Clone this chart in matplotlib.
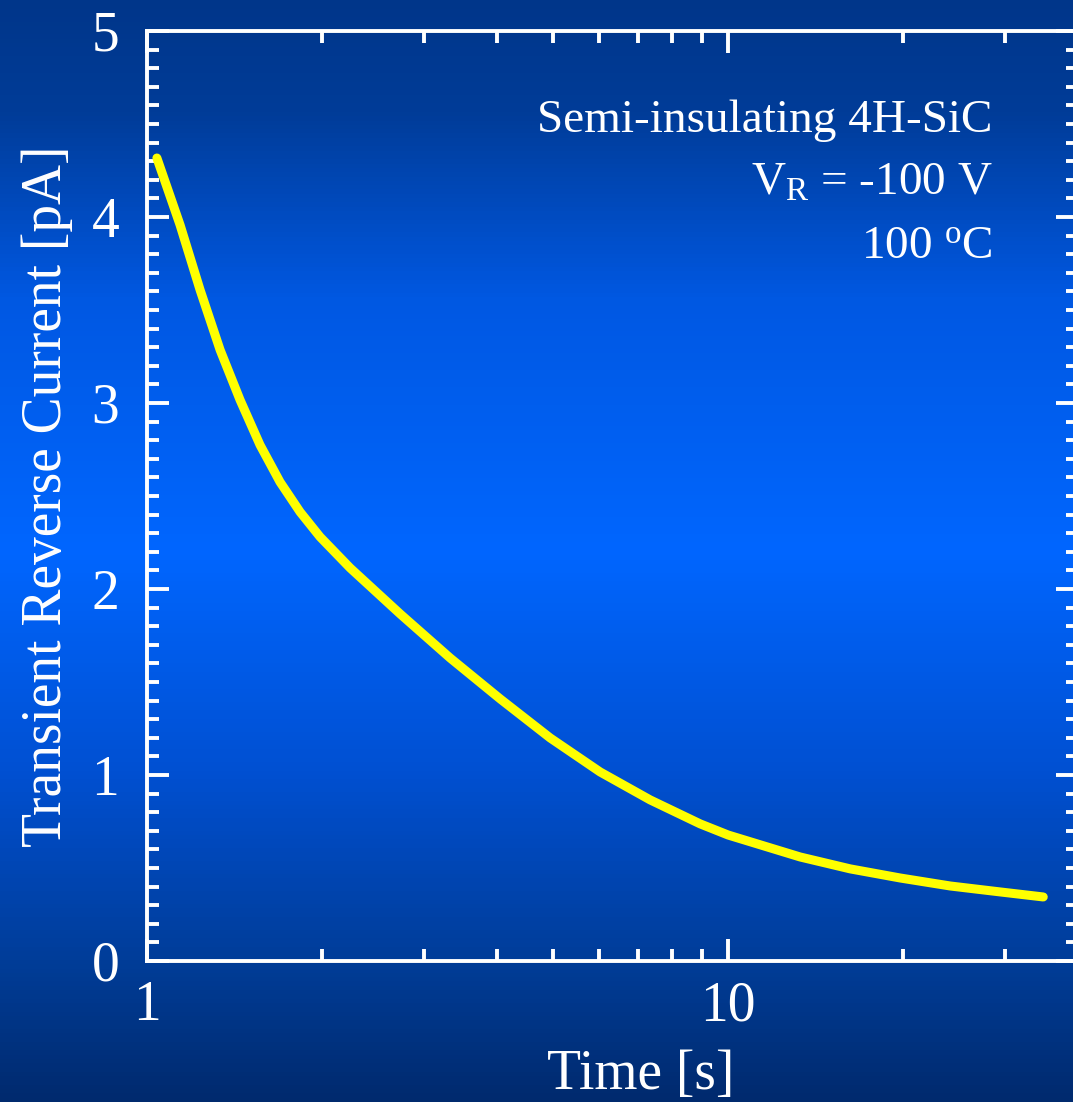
import numpy as np
import matplotlib.pyplot as plt
from matplotlib.colors import LinearSegmentedColormap
from matplotlib.ticker import MultipleLocator, LogLocator, NullFormatter, FixedLocator, FixedFormatter

# transient reverse current
time_s = [1.040, 1.140, 1.234, 1.336, 1.446, 1.565, 1.694, 1.834, 1.985, 2.236,
          2.726, 3.323, 4.052, 4.940, 6.022, 7.340, 8.950, 10.0, 13.30, 16.22,
          19.77, 24.11, 29.39, 34.85]
current_pA = [4.317, 3.957, 3.608, 3.285, 3.016, 2.774, 2.575, 2.414, 2.280, 2.113,
              1.866, 1.629, 1.409, 1.199, 1.016, 0.866, 0.737, 0.677, 0.559, 0.495,
              0.446, 0.403, 0.371, 0.344]

x_ticks = [1, 10]
x_tick_labels = ['1', '10']
y_ticks = [0, 1, 2, 3, 4, 5]

plt.rcParams['font.family'] = ['Liberation Serif', 'DejaVu Serif']
plt.rcParams['mathtext.fontset'] = 'custom'
plt.rcParams['mathtext.rm'] = 'Liberation Serif'
plt.rcParams['mathtext.it'] = 'Liberation Serif:italic'

fig = plt.figure(figsize=(10.73, 11.02), dpi=100)

# blue gradient background
bg = fig.add_axes([0, 0, 1, 1], zorder=-10)
cmap = LinearSegmentedColormap.from_list('bg', [
    (0.0, '#002a6e'), (0.12, '#003c96'), (0.3, '#0050d2'),
    (0.5, '#0066ff'), (0.73, '#0058e2'), (0.9, '#003c98'), (1.0, '#00368a')])
bg.imshow(np.linspace(0, 1, 256).reshape(-1, 1), cmap=cmap, aspect='auto',
          origin='lower', extent=[0, 1, 0, 1])
bg.axis('off')

ax = fig.add_axes([0.137, 0.128, 0.8677, 0.8439])
ax.patch.set_alpha(0)

ax.plot(time_s, current_pA, color='#ffff00', lw=6.5, solid_capstyle='round',
        solid_joinstyle='round')

ax.set_xscale('log')
ax.set_xlim(1, 40)
ax.set_ylim(0, 5)

ax.xaxis.set_major_locator(FixedLocator(x_ticks))
ax.xaxis.set_major_formatter(FixedFormatter(x_tick_labels))
ax.xaxis.set_minor_locator(LogLocator(base=10, subs=np.arange(2, 10)))
ax.xaxis.set_minor_formatter(NullFormatter())
ax.yaxis.set_major_locator(FixedLocator(y_ticks))
ax.yaxis.set_minor_locator(MultipleLocator(0.1))

for s in ax.spines.values():
    s.set_color('white')
    s.set_linewidth(2.8)

ax.tick_params(which='both', direction='in', colors='white', top=True, right=True,
               labelsize=40, width=2.8)
ax.tick_params(which='major', length=16)
ax.tick_params(which='minor', length=8.5)
ax.tick_params(axis='x', pad=14)
ax.tick_params(axis='y', pad=20)

ax.set_xlabel('Time [s]', fontsize=40, color='white', labelpad=12)
ax.xaxis.label.set_x(0.53)
ax.set_ylabel('Transient Reverse Current [pA]', fontsize=40, color='white', labelpad=13)

ax.text(0.908, 0.891, 'Semi-insulating 4H-SiC', transform=ax.transAxes,
        ha='right', va='baseline', fontsize=34, color='white')
ax.text(0.908, 0.824, r'V$_{\rm R}$ = -100 V', transform=ax.transAxes,
        ha='right', va='baseline', fontsize=34, color='white')
ax.text(0.908, 0.756, r'100 $^{\rm o}$C', transform=ax.transAxes,
        ha='right', va='baseline', fontsize=34, color='white')

fig.savefig('out.png', dpi=100)
